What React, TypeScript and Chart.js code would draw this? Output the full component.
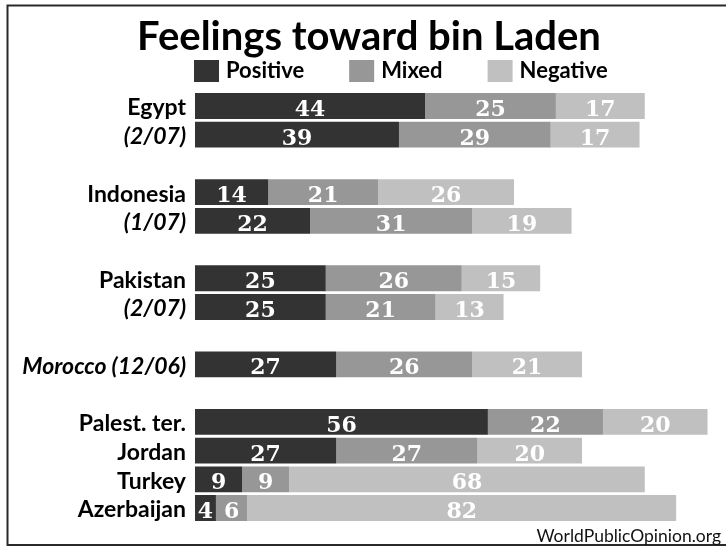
import React, { useEffect, useRef } from "react";
import { Chart, registerables } from "chart.js";

Chart.register(...registerables);

const categories: string[] = [
  "Egypt", "(2/07)", "",
  "Indonesia", "(1/07)", "",
  "Pakistan", "(2/07)", "",
  "Morocco (12/06)", "",
  "Palest. ter.", "Jordan", "Turkey", "Azerbaijan",
];
const seriesNames: string[] = ["Positive", "Mixed", "Negative"];
const positive: (number | null)[] = [44, 39, null, 14, 22, null, 25, 25, null, 27, null, 56, 27, 9, 4];
const mixed: (number | null)[] = [25, 29, null, 21, 31, null, 26, 21, null, 26, null, 22, 27, 9, 6];
const negative: (number | null)[] = [17, 17, null, 26, 19, null, 15, 13, null, 21, null, 20, 20, 68, 82];
const titleText = "Feelings toward bin Laden";
const sourceText = "WorldPublicOpinion.org";

const colors = ["#333333", "#979797", "#c0c0c0"];

export default function App() {
  const ref = useRef<HTMLCanvasElement | null>(null);

  useEffect(() => {
    document.body.style.margin = "0";
    const canvas = ref.current;
    if (!canvas) return;

    const decor = {
      id: "decor",
      afterDatasetsDraw(chart: any) {
        const ctx = chart.ctx as CanvasRenderingContext2D;
        ctx.save();
        ctx.fillStyle = "#ffffff";
        ctx.font = "bold 22px 'DejaVu Serif'";
        ctx.textAlign = "center";
        ctx.textBaseline = "alphabetic";
        chart.data.datasets.forEach((ds: any, i: number) => {
          const meta = chart.getDatasetMeta(i);
          meta.data.forEach((el: any, j: number) => {
            const v = ds.data[j];
            if (v === null || v === undefined) return;
            const cx = (el.x + el.base) / 2;
            ctx.fillText(String(v), cx, el.y + 10);
          });
        });
        ctx.restore();
      },
      afterDraw(chart: any) {
        const ctx = chart.ctx as CanvasRenderingContext2D;
        ctx.save();
        // frame
        ctx.strokeStyle = "#2a2a2a";
        ctx.lineWidth = 2;
        ctx.beginPath();
        ctx.moveTo(726, 5.5);
        ctx.lineTo(7.5, 5.5);
        ctx.lineTo(7.5, 545);
        ctx.lineTo(726, 545);
        ctx.stroke();
        // title
        ctx.fillStyle = "#000000";
        ctx.font = "bold 40px Lato";
        ctx.textAlign = "center";
        ctx.textBaseline = "alphabetic";
        ctx.fillText(titleText, 369, 50);
        // legend
        ctx.font = "bold 22px Lato";
        ctx.textAlign = "left";
        ctx.textBaseline = "middle";
        let x = 194;
        seriesNames.forEach((name, i) => {
          ctx.fillStyle = colors[i];
          ctx.fillRect(x, 60, 25, 22);
          ctx.fillStyle = "#000000";
          ctx.fillText(name, x + 32, 71);
          x += 32 + ctx.measureText(name).width + 45;
        });
        // source
        ctx.font = "17.5px Lato";
        ctx.textAlign = "right";
        ctx.textBaseline = "alphabetic";
        ctx.fillStyle = "#111111";
        ctx.fillText(sourceText, 721, 542);
        ctx.restore();
      },
    };

    const chart = new Chart(canvas, {
      type: "bar",
      data: {
        labels: categories,
        datasets: [
          { label: seriesNames[0], data: positive, backgroundColor: colors[0] },
          { label: seriesNames[1], data: mixed, backgroundColor: colors[1] },
          { label: seriesNames[2], data: negative, backgroundColor: colors[2] },
        ],
      },
      options: {
        indexAxis: "y",
        responsive: false,
        animation: false,
        devicePixelRatio: 1,
        layout: { padding: { top: 91.6, bottom: 25.6, right: 8, left: 0 } },
        datasets: { bar: { barPercentage: 0.9, categoryPercentage: 1 } },
        plugins: {
          legend: { display: false },
          title: { display: false },
          tooltip: { enabled: false },
        },
        scales: {
          x: {
            stacked: true,
            min: 0,
            max: 100,
            display: false,
          },
          y: {
            stacked: true,
            grid: { display: false, drawTicks: false },
            border: { display: false },
            afterFit: (s: any) => {
              s.width = 195;
            },
            ticks: {
              autoSkip: false,
              padding: 9,
              labelOffset: 2,
              color: "#000000",
              font: (c: any) => {
                const lbl = categories[c.index] || "";
                return {
                  family: "Lato",
                  size: 23,
                  weight: "bold",
                  style: lbl.includes("(") ? "italic" : "normal",
                };
              },
            },
          },
        },
      },
      plugins: [decor],
    } as any);

    return () => chart.destroy();
  }, []);

  return <canvas ref={ref} width={726} height={548} style={{ display: "block" }} />;
}
